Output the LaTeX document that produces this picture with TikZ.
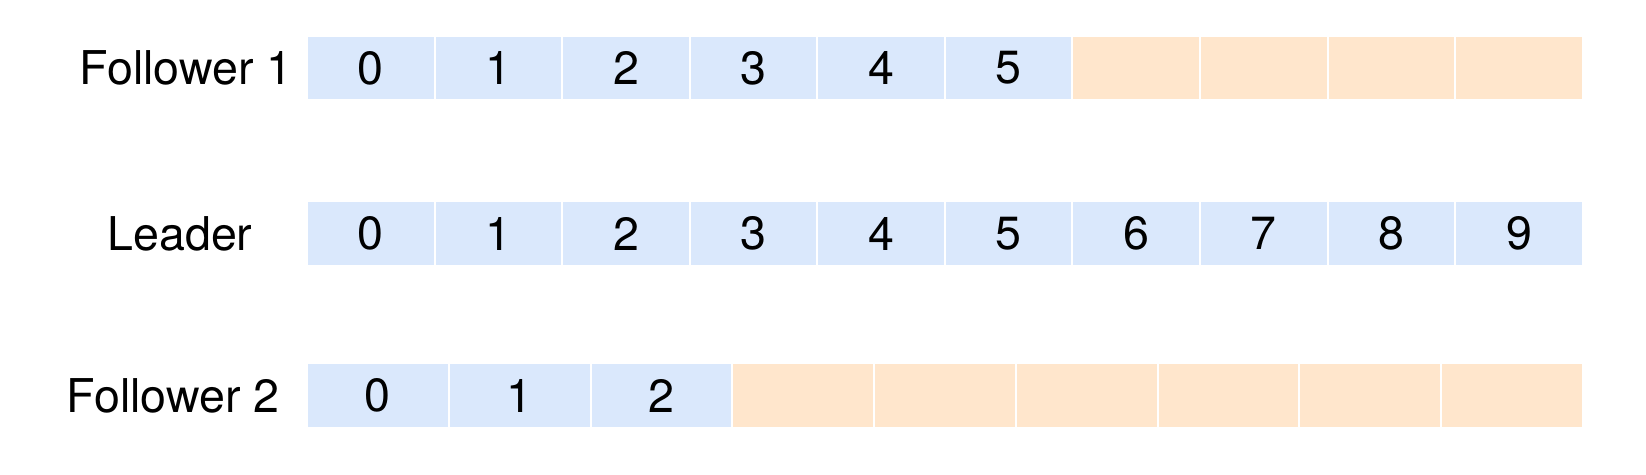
\documentclass[tikz,border=0pt]{standalone}
\usepackage{fontspec}
\setmainfont{TeX Gyre Heros}
\usepackage{tikz}
\usetikzlibrary{positioning}
\usepackage{xcolor}

\definecolor{logblue}{HTML}{DAE8FC}
\definecolor{logorange}{HTML}{FFE6CC}

\tikzset{
  cell/.style={draw=white, line width=0.04cm, inner sep=0pt, outer sep=0pt,
    minimum height=1.29cm, font=\fontsize{26.5}{31}\selectfont},
  wide/.style={cell, minimum width=2.552cm},
  narrow/.style={cell, minimum width=2.836cm},
  entry/.style={fill=logblue},
  empty/.style={fill=logorange},
  rowname/.style={font=\fontsize{26.5}{31}\selectfont, inner sep=0pt}
}

\begin{document}
\begin{tikzpicture}[x=0.02cm,y=-0.02cm]
\useasboundingbox (0,0) rectangle (1646,474);

% Follower 1
\node[rowname] (nf1) at (186,68) {Follower 1};
\node[wide,entry] (fa0) at (370.8,68) {0};
\node[wide,entry,right=0pt of fa0] (fa1) {1};
\node[wide,entry,right=0pt of fa1] (fa2) {2};
\node[wide,entry,right=0pt of fa2] (fa3) {3};
\node[wide,entry,right=0pt of fa3] (fa4) {4};
\node[wide,entry,right=0pt of fa4] (fa5) {5};
\node[wide,empty,right=0pt of fa5] (fa6) {};
\node[wide,empty,right=0pt of fa6] (fa7) {};
\node[wide,empty,right=0pt of fa7] (fa8) {};
\node[wide,empty,right=0pt of fa8] (fa9) {};

% Leader
\node[rowname] (nl) at (180,233.5) {Leader};
\node[wide,entry] (la0) at (370.8,233.5) {0};
\node[wide,entry,right=0pt of la0] (la1) {1};
\node[wide,entry,right=0pt of la1] (la2) {2};
\node[wide,entry,right=0pt of la2] (la3) {3};
\node[wide,entry,right=0pt of la3] (la4) {4};
\node[wide,entry,right=0pt of la4] (la5) {5};
\node[wide,entry,right=0pt of la5] (la6) {6};
\node[wide,entry,right=0pt of la6] (la7) {7};
\node[wide,entry,right=0pt of la7] (la8) {8};
\node[wide,entry,right=0pt of la8] (la9) {9};

% Follower 2
\node[rowname] (nf2) at (173,395.5) {Follower 2};
\node[narrow,entry] (fb0) at (377.9,395.5) {0};
\node[narrow,entry,right=0pt of fb0] (fb1) {1};
\node[narrow,entry,right=0pt of fb1] (fb2) {2};
\node[narrow,empty,right=0pt of fb2] (fb3) {};
\node[narrow,empty,right=0pt of fb3] (fb4) {};
\node[narrow,empty,right=0pt of fb4] (fb5) {};
\node[narrow,empty,right=0pt of fb5] (fb6) {};
\node[narrow,empty,right=0pt of fb6] (fb7) {};
\node[narrow,empty,right=0pt of fb7] (fb8) {};

\end{tikzpicture}
\end{document}
